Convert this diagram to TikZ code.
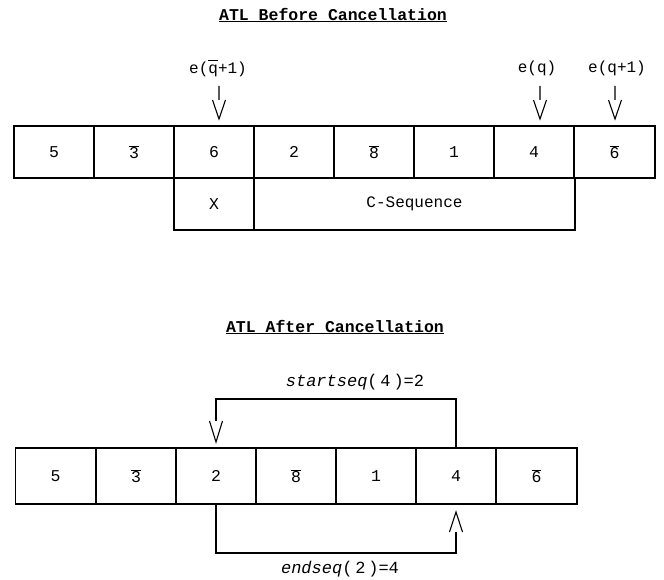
\documentclass[tikz,border=0pt]{standalone}
\usepackage{fontspec}
\setmainfont{Liberation Mono}
\newcommand{\bd}[1]{\ensuremath{\overline{\mbox{#1}}}}
\tikzset{
  cell/.style={draw, line width=1.1pt, rectangle, minimum width=80pt, minimum height=52pt, inner sep=0pt, outer sep=0pt, font=\fontsize{16.5}{16.5}\selectfont},
  cellb/.style={cell, minimum height=56pt},
  lbl/.style={inner sep=0pt, font=\fontsize{16}{16}\selectfont},
  ttl/.style={inner sep=0pt, font=\fontsize{16.5}{16.5}\selectfont\bfseries},
  conn/.style={line width=1.1pt}
}
\begin{document}
\begin{tikzpicture}[x=1pt,y=1pt]
\useasboundingbox (0,0) rectangle (664,-580);
% ---- top section
\node[ttl] (t1) at (333,-15) {\underline{ATL Before Cancellation}};
\node[cell] (a1) at (54,-152) {5};
\node[cell] (a2) at (134,-152) {\bd{3}};
\node[cell] (a3) at (214,-152) {6};
\node[cell] (a4) at (294,-152) {2};
\node[cell] (a5) at (374,-152) {\bd{8}};
\node[cell] (a6) at (454,-152) {1};
\node[cell] (a7) at (534,-152) {4};
\node[cell, minimum width=81pt] (a8) at (614.5,-152) {\bd{6}};
\node[cell] (x) at (214,-204) {X};
\node[cell, minimum width=321pt, font=\fontsize{16}{16}\selectfont] (cs) at (414.5,-204) {C-Sequence};
\node[lbl] (l1) at (218,-68) {e(\ensuremath{\overline{\mbox{q\vphantom{(}}}}+1)};
\node[lbl] (l2) at (537,-68) {e(q)};
\node[lbl] (l3) at (617,-68) {e(q+1)};
\foreach \n/\xs in {l1/1,l2/3,l3/-2}{
  \draw[conn] ([shift={(\xs pt,-18pt)}]\n.center) -- ++(0,-14) ++(-6.5,0) -- ++(6.5,-19) -- ++(6.5,19);
}
% ---- bottom section
\node[ttl] (t2) at (335,-327) {\underline{ATL After Cancellation}};
\node[cellb] (b1) at (55.5,-476) {5};
\node[cellb] (b2) at (136,-476) {\bd{3}};
\node[cellb] (b3) at (216,-476) {2};
\node[cellb] (b4) at (296,-476) {\bd{8}};
\node[cellb] (b5) at (376,-476) {1};
\node[cellb] (b6) at (456,-476) {4};
\node[cellb, minimum width=81pt] (b7) at (536.5,-476) {\bd{6}};
\node[lbl, font=\fontsize{17}{17}\selectfont] (ss) at (355,-382) {\textit{startseq}(\,4\,)=2};
\node[lbl, font=\fontsize{17}{17}\selectfont] (es) at (340,-569) {\textit{endseq}(\,2\,)=4};
\draw[conn] (b6.north) -- ++(0,49) -| ([yshift=27pt]b3.north);
\draw[conn] ([shift={(-6.5pt,27pt)}]b3.north) -- ([yshift=6pt]b3.north) -- ([shift={(6.5pt,27pt)}]b3.north);
\draw[conn] (b3.south) -- ++(0,-49) -| ([yshift=-28pt]b6.south);
\draw[conn] ([shift={(-6.5pt,-28pt)}]b6.south) -- ([yshift=-8pt]b6.south) -- ([shift={(6.5pt,-28pt)}]b6.south);
\end{tikzpicture}
\end{document}
